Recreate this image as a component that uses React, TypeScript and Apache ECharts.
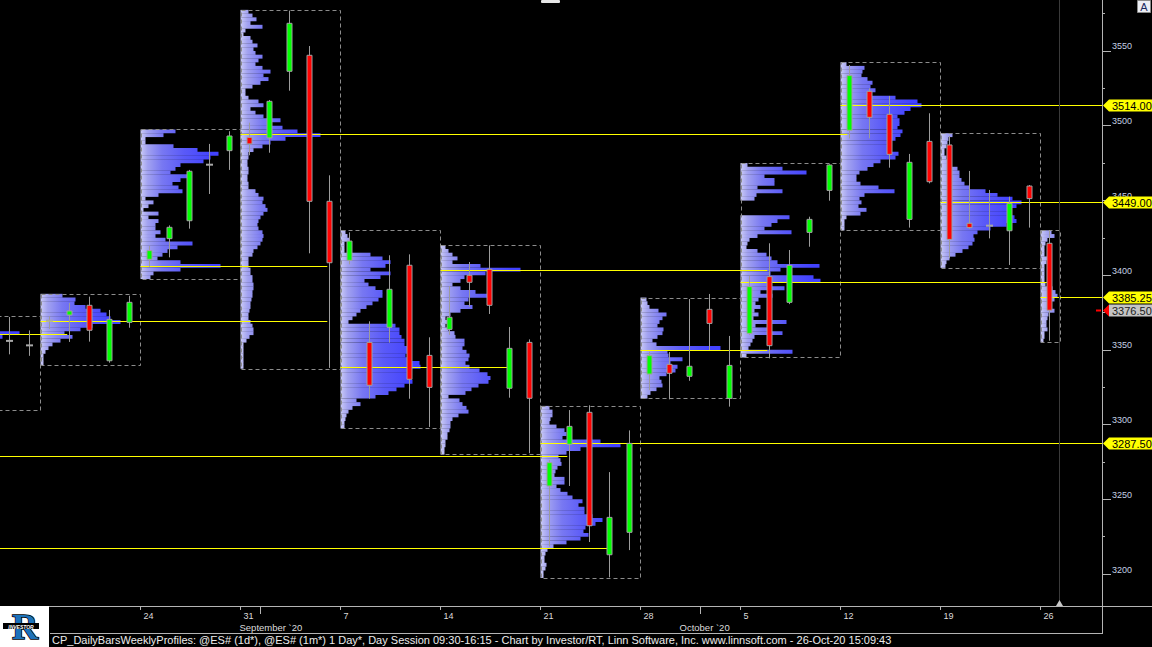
import React, { useEffect, useRef } from "react";
import * as echarts from "echarts";

// ---------------- data ----------------
// x index = trading-day slot, 0 = Monday 24 Aug 2020 (each week = 5 slots)
const dayIdx = [-7, -6, -5, -4, -3, -2, -1, 0, 1, 2, 3, 4, 5, 6, 7, 8, 9, 10, 11, 12, 13, 14, 15, 16, 17, 18, 19, 20, 21, 22, 23, 24, 25, 26, 27, 28, 29, 30, 31, 32, 33, 34, 35, 36, 37, 38, 39, 40, 41, 42, 43, 44, 45];
const opens = [3356, 3353, 3369.5, 3373.3, 3379.8, 3342.7, 3368.4,
  3410.6, 3424.4, 3436.4, 3473.9, 3483.3,
  3492.2, 3491.8, 3536.4, 3547.1, 3449.4,
  3409.9, 3355, 3365.1, 3406.6, 3346.3,
  3363.7, 3399.9, 3403.9, 3324.3, 3355,
  3258.9, 3286.8, 3308.2, 3212.9, 3227.9,
  3333.8, 3340.3, 3332.3, 3377.1, 3317.5,
  3361, 3399, 3381.8, 3428.6, 3456.7,
  3496.9, 3523, 3507.6, 3437.3, 3489.5,
  3487.1, 3434.7, 3433.1, 3429.7, 3459.6,
  3421.3];
const highs = [3372, 3363, 3372.5, 3381.4, 3385.6, 3376.7, 3386.2,
  3419.5, 3433.3, 3470.4, 3487.8, 3496.3,
  3502, 3517.2, 3577, 3553.3, 3466.8,
  3428.6, 3369.1, 3413.3, 3413.9, 3358.4,
  3392.7, 3408.8, 3419.9, 3365.3, 3357,
  3276.3, 3309.7, 3312.9, 3268.2, 3296.1,
  3348.8, 3348.6, 3384, 3387.4, 3359.3,
  3399.4, 3421.3, 3416.8, 3439.1, 3474.1,
  3540.6, 3525, 3519.9, 3481.1, 3508.3,
  3493.1, 3469.7, 3457, 3452.5, 3460.3,
  3430.2];
const lows = [3347, 3346, 3364, 3355.3, 3355.5, 3341.4, 3364.8,
  3405.6, 3411.9, 3431.1, 3454.3, 3470.4,
  3480.2, 3481.9, 3523.4, 3414.6, 3337.9,
  3407.2, 3317.3, 3354.8, 3317.3, 3298.4,
  3360, 3378.9, 3374, 3318, 3280.8,
  3218.3, 3258.9, 3221.4, 3197.8, 3216,
  3323.1, 3316.9, 3329.3, 3349.9, 3312,
  3359.9, 3344.3, 3380.6, 3419, 3449.8,
  3491.5, 3491.5, 3471.9, 3431.8, 3461.4,
  3411.2, 3431, 3424.6, 3406.8, 3431.8,
  3356.1];
const closes = [3356, 3353, 3369.5, 3376, 3363.1, 3370.4, 3381.8,
  3416.4, 3432, 3469.5, 3473.9, 3493.1,
  3487.8, 3516.3, 3568.5, 3449.4, 3408.3,
  3422.8, 3326.3, 3390.5, 3330.3, 3324.9,
  3371.8, 3395.2, 3379.8, 3351, 3317.6,
  3274.5, 3298.8, 3232.3, 3237.9, 3287.4,
  3346.1, 3334.3, 3339, 3367.7, 3339.6,
  3392.3, 3352.8, 3406.5, 3437.3, 3473.7,
  3533.5, 3505.6, 3480.8, 3475.5, 3462.5,
  3423.9, 3431.8, 3433.1, 3448, 3451.2,
  3376.5];

// weekly profiles
const weekLabels = ["10", "17", "24", "31", "7", "14", "21", "28", "5", "12", "19", "26"];
const weekStarts = [-10, -5, 0, 5, 10, 15, 20, 25, 30, 35, 40, 45];
const weekDays = [5, 5, 5, 5, 5, 5, 5, 5, 5, 5, 5, 1];
const profileTops = [3372.5, 3387.5, 3497.5, 3577.5, 3430, 3420, 3312.5, 3385, 3475, 3542.5, 3495, 3430];
const pocs = [3360.5, 3369.5, 3406, 3494.5, 3338.5, 3403.5, 3287.5, 3350, 3395.25, 3514, 3449, 3385.25];
const olderPocs = [3279, 3217.25];
const STEP = 2.5; // price bin of the profiles

const profAug10 = [20, 26, 30, 42, 79, 62, 52, 48, 40, 44, 38, 36, 32, 30, 34, 28, 24, 26, 20, 18, 14, 12, 10, 8, 6];
const profAug17 = [22, 35, 34, 45, 60, 66, 70, 80, 52, 40, 24, 32, 20, 12, 8, 5, 3, 3, 3];
const profAug24 = [35, 23, 5, 5, 33, 57, 78, 70, 63, 40, 35, 30, 48, 40, 32, 38, 42, 18, 5, 13, 8, 3, 18, 8, 18, 15, 15, 20, 15, 25, 52, 37, 27, 22, 17, 40, 80, 40, 13, 10];
const profAug31 = [8, 12, 16, 10, 22, 5, 3, 10, 12, 17, 13, 15, 22, 18, 15, 22, 30, 23, 28, 20,
  12, 5, 5, 8, 18, 23, 10, 15, 23, 40, 28, 42, 57, 80, 45, 30, 22, 13, 8, 8,
  7, 7, 8, 8, 7, 7, 8, 8, 15, 18, 23, 22, 25, 27, 23, 20, 18, 17, 18, 22,
  23, 22, 20, 17, 13, 12, 8, 8, 8, 10, 10, 12, 12, 13, 13, 12, 12, 11, 10, 10,
  9, 8, 8, 10, 12, 13, 13, 9, 6, 3, 3, 3, 3, 3, 3, 3];
const profSep7 = [5, 7, 9, 4, 4, 4, 30, 42, 50, 45, 30, 50, 40, 24, 28, 35, 42, 42, 38, 32, 26,
  20, 16, 12, 8, 55, 59, 59, 61, 64, 64, 67, 67, 65, 70, 79, 80, 70, 68, 70, 72,
  64, 56, 48, 35, 16, 20, 12, 8, 6, 5, 4, 4];
const profSep14 = [5, 8, 12, 17, 12, 40, 80, 45, 24, 20, 12, 20, 35, 47, 28, 24, 32, 20, 10, 5,
  8, 5, 8, 14, 15, 24, 24, 22, 26, 29, 28, 25, 29, 39, 47, 50, 48, 38, 31, 25,
  8, 19, 22, 26, 28, 18, 12, 10, 10, 9, 7, 7, 5, 5, 4, 4];
const profSep21 = [9, 12, 12, 10, 9, 16, 24, 26, 22, 60, 80, 40, 26, 18, 20, 21, 17, 15, 14, 24,
  24, 16, 20, 27, 32, 42, 38, 44, 44, 52, 62, 55, 45, 43, 48, 40, 26, 13, 7, 5,
  4, 4, 6, 5, 3, 3];
const profSep28 = [6, 7, 9, 18, 26, 22, 19, 17, 23, 22, 17, 12, 16, 80, 27, 28, 42, 30, 37, 35, 26, 19, 21, 22, 16, 10, 7];
const profOct5 = [7, 42, 66, 24, 34, 34, 17, 42, 16, 14, 0, 0, 0, 0, 49, 37, 31, 24, 51, 17,
  9, 7, 6, 17, 26, 31, 37, 79, 40, 30, 73, 80, 30, 44, 20, 32, 18, 15, 20, 14,
  18, 13, 46, 15, 30, 42, 14, 12, 10, 8, 52, 6];
const profOct12 = [6, 24, 22, 21, 27, 32, 30, 35, 30, 55, 77, 81, 70, 64, 57, 59, 59, 57, 62, 60,
  55, 50, 50, 48, 58, 55, 40, 33, 27, 19, 16, 16, 20, 38, 54, 24, 19, 21, 18, 26,
  20, 6, 4, 4, 4];
const profOct19 = [12, 8, 7, 6, 4, 4, 6, 7, 10, 17, 19, 19, 21, 24, 29, 45, 57, 72, 81, 76,
  70, 68, 74, 76, 66, 50, 37, 33, 34, 32, 28, 22, 15, 9, 6, 5];
const profOct26 = [11, 14, 7, 5, 4, 4, 4, 8, 6, 4, 4, 4, 4, 4, 5, 12, 15, 17, 14, 9, 11, 14, 8, 7, 6, 6, 7, 4, 4, 3];
const profiles = [profAug10, profAug17, profAug24, profAug31, profSep7, profSep14, profSep21, profSep28, profOct5, profOct12, profOct19, profOct26];
const VOL_PER_DAY = 20; // profile volume units that fill one day slot

const priceTicks = [3200, 3250, 3300, 3350, 3400, 3450, 3500, 3550];
const priceMinorTicks = [3225, 3275, 3325, 3375, 3425, 3475, 3525, 3575];
const monthTicks = [6, 28];
const monthLabelPos = [4.95, 26.95];
const monthLabels = ["September `20", "October `20"];
const NOW_IDX = 45.94;
const statusText = "CP_DailyBarsWeeklyProfiles: @ES# (1d*), @ES# (1m*) 1 Day*, Day Session 09:30-16:15 - Chart by Investor/RT, Linn Software, Inc. www.linnsoft.com - 26-Oct-20 15:09:43";

// ---------------- layout constants ----------------
const X_MIN = -7.025;
const X_MAX = 48.075;
const Y_MIN = 3178.6;
const Y_MAX = 3584.1;
const C_OFF = 0.44;
const FONT = '"Liberation Sans", Arial, sans-serif';
const AXIS_GRAY = "#b4b4b4";

function touchEnd(price: number, afterIdx: number): number | null {
  for (let i = 0; i < dayIdx.length; i++) {
    if (dayIdx[i] < afterIdx) continue;
    if (lows[i] <= price && price <= highs[i]) return dayIdx[i] + C_OFF - 0.1;
  }
  return null;
}

function buildOption(): any {
  const profileData: number[][] = [];
  profiles.forEach((prof, w) => {
    prof.forEach((v, k) => {
      if (v > 0) profileData.push([weekStarts[w], profileTops[w] - k * STEP, v]);
    });
  });
  const boxData = profiles.map((prof, w) => [
    weekStarts[w],
    weekStarts[w] + weekDays[w] - 0.05,
    profileTops[w],
    profileTops[w] - prof.length * STEP,
  ]);
  const lineData: number[][] = [];
  const tagData: number[][] = [];
  pocs.forEach((p, w) => {
    const e = touchEnd(p, weekStarts[w] + 5);
    lineData.push([weekStarts[w], e === null ? X_MAX : e, p]);
    if (e === null) tagData.push([p, 0]);
  });
  olderPocs.forEach((p) => {
    const e = touchEnd(p, -1e9);
    lineData.push([X_MIN - 1, e === null ? X_MAX : e, p]);
    if (e === null) tagData.push([p, 0]);
  });
  tagData.push([closes[closes.length - 1], 1]);
  const candleData = dayIdx.map((d, i) => [d, opens[i], highs[i], lows[i], closes[i]]);

  const weekTickVals = weekStarts.filter((s) => s >= 0);

  return {
    animation: false,
    backgroundColor: "#000000",
    grid: { left: 0, right: 50, top: 0, bottom: 41, containLabel: false, outerBoundsMode: "none" },
    xAxis: [
      {
        type: "value", min: X_MIN, max: X_MAX, position: "bottom",
        axisLine: { show: true, onZero: false, lineStyle: { color: AXIS_GRAY, width: 1 } },
        axisTick: { show: true, length: 4, customValues: weekTickVals, lineStyle: { color: AXIS_GRAY } },
        axisLabel: {
          show: true, customValues: weekTickVals,
          formatter: (v: number) => {
            const w = weekStarts.findIndex((s) => Math.abs(s - v) < 1e-6);
            return w >= 0 ? weekLabels[w] : "";
          },
          color: "#dcdcdc", fontSize: 9, fontFamily: FONT, align: "left", padding: [0, 0, 0, 3], margin: 5,
        },
        splitLine: { show: false },
      },
      {
        type: "value", min: X_MIN, max: X_MAX, position: "bottom",
        axisLine: { show: false, onZero: false },
        axisTick: { show: true, length: 8, customValues: monthTicks, lineStyle: { color: AXIS_GRAY } },
        axisLabel: {
          show: true, customValues: monthLabelPos,
          formatter: (v: number) => {
            let best = 0;
            monthLabelPos.forEach((m, i) => { if (Math.abs(m - v) < Math.abs(monthLabelPos[best] - v)) best = i; });
            return monthLabels[best];
          },
          color: "#dcdcdc", fontSize: 9.5, fontFamily: FONT, align: "left", margin: 16,
        },
        splitLine: { show: false },
      },
    ],
    yAxis: [
      {
        type: "value", min: Y_MIN, max: Y_MAX, position: "right",
        axisLine: { show: true, onZero: false, lineStyle: { color: AXIS_GRAY, width: 1 } },
        axisTick: { show: true, length: 9, customValues: priceTicks, lineStyle: { color: AXIS_GRAY } },
        axisLabel: {
          show: true, customValues: priceTicks, formatter: (v: number) => String(Math.round(v)),
          color: "#c4d0e4", fontSize: 9, fontFamily: FONT, margin: 10, verticalAlign: "bottom",
        },
        splitLine: { show: false },
      },
      {
        type: "value", min: Y_MIN, max: Y_MAX, position: "right",
        axisLine: { show: false, onZero: false },
        axisTick: { show: true, length: 3, customValues: priceMinorTicks, lineStyle: { color: AXIS_GRAY } },
        axisLabel: { show: false, customValues: priceMinorTicks },
        splitLine: { show: false },
      },
    ],
    series: [
      {
        type: "custom", name: "profiles", clip: true, silent: true, z: 1,
        data: profileData,
        renderItem: (params: any, api: any) => {
          const x = api.value(0), top = api.value(1), vol = api.value(2);
          const p0 = api.coord([x, top]);
          const p1 = api.coord([x + vol / VOL_PER_DAY, top - STEP]);
          const gEnd = api.coord([x + 3.6, top])[0];
          return {
            type: "rect",
            shape: { x: p0[0], y: p0[1], width: p1[0] - p0[0], height: p1[1] - p0[1] + 0.2 },
            style: {
              fill: new echarts.graphic.LinearGradient(p0[0], 0, gEnd, 0, [
                { offset: 0, color: "#cacaf6" },
                { offset: 0.1, color: "#a2a2f0" },
                { offset: 0.3, color: "#7878f2" },
                { offset: 0.6, color: "#5a5af8" },
                { offset: 1, color: "#4242ff" },
              ], true),
            },
          };
        },
      },
      {
        type: "custom", name: "boxes", clip: true, silent: true, z: 2,
        data: boxData,
        renderItem: (params: any, api: any) => {
          const a = api.coord([api.value(0), api.value(2)]);
          const b = api.coord([api.value(1), api.value(3)]);
          const x0 = Math.round(a[0]) + 0.5, y0 = Math.round(a[1]) + 0.5;
          const x1 = Math.round(b[0]) + 0.5, y1 = Math.round(b[1]) + 0.5;
          return {
            type: "rect",
            shape: { x: x0, y: y0, width: x1 - x0, height: y1 - y0 },
            style: { fill: "none", stroke: "#8c8c8c", lineWidth: 1, lineDash: [4, 3] },
          };
        },
      },
      {
        type: "custom", name: "poc", clip: true, silent: true, z: 3,
        data: lineData,
        renderItem: (params: any, api: any) => {
          const a = api.coord([api.value(0), api.value(2)]);
          const b = api.coord([api.value(1), api.value(2)]);
          const y = Math.round(a[1]) + 0.5;
          return {
            type: "line",
            shape: { x1: a[0], y1: y, x2: b[0], y2: y },
            style: { stroke: "#ffff00", lineWidth: 1 },
          };
        },
      },
      {
        type: "custom", name: "now", clip: false, silent: true, z: 3,
        data: [[NOW_IDX, Y_MIN]],
        renderItem: (params: any, api: any) => {
          const top = api.coord([api.value(0), Y_MAX]);
          const bot = api.coord([api.value(0), Y_MIN]);
          const x = Math.round(top[0]) + 0.5;
          return {
            type: "group",
            children: [
              { type: "line", shape: { x1: x, y1: top[1], x2: x, y2: bot[1] - 5 }, style: { stroke: "#3a3a3a", lineWidth: 1 } },
              { type: "polygon", shape: { points: [[x - 3.5, bot[1]], [x, bot[1] - 6], [x + 3.5, bot[1]]] }, style: { fill: "#c8c8c8" } },
            ],
          };
        },
      },
      {
        type: "custom", name: "candles", clip: true, silent: true, z: 4,
        data: candleData,
        renderItem: (params: any, api: any) => {
          const d = api.value(0), o = api.value(1), h = api.value(2), l = api.value(3), c = api.value(4);
          const cx = Math.round(api.coord([d + C_OFF, o])[0]) + 0.5;
          const yo = api.coord([d, o])[1], yc = api.coord([d, c])[1];
          const yh = api.coord([d, h])[1], yl = api.coord([d, l])[1];
          const children: any[] = [
            { type: "line", shape: { x1: cx, y1: yh, x2: cx, y2: yl }, style: { stroke: "#9c9c9c", lineWidth: 1 } },
          ];
          if (o === c) {
            children.push({ type: "rect", shape: { x: cx - 3.5, y: yo - 1, width: 7, height: 2 }, style: { fill: "#a8a8a8" } });
          } else {
            const top = Math.min(yo, yc), bot = Math.max(yo, yc);
            children.push({
              type: "rect",
              shape: { x: cx - 2.5, y: top, width: 5, height: Math.max(bot - top, 1) },
              style: { fill: c > o ? "#00ff00" : "#ff0000", stroke: "#a0a0a0", lineWidth: 1 },
            });
          }
          return { type: "group", children };
        },
      },
      {
        type: "custom", name: "tags", clip: false, silent: true, z: 6,
        data: tagData,
        renderItem: (params: any, api: any) => {
          const price = api.value(0), kind = api.value(1);
          const p = api.coord([X_MAX, price]);
          const x = Math.round(p[0]), y = Math.round(p[1]) + 0.5;
          const txt = price.toFixed(2);
          if (kind === 0) {
            return {
              type: "group",
              children: [
                { type: "polygon", shape: { points: [[x + 1, y], [x + 7, y - 6], [x + 50, y - 6], [x + 50, y + 6], [x + 7, y + 6]] }, style: { fill: "#ffff00" } },
                { type: "text", style: { text: txt, x: x + 10, y: y + 0.5, fill: "#000000", font: "11px " + FONT, align: "left", verticalAlign: "middle" } },
              ],
            };
          }
          return {
            type: "group",
            children: [
              { type: "line", shape: { x1: x - 6, y1: y, x2: x - 1, y2: y }, style: { stroke: "#ff0000", lineWidth: 2 } },
              { type: "polygon", shape: { points: [[x + 1, y], [x + 7, y - 6], [x + 7, y + 6]] }, style: { fill: "#ff0000" } },
              { type: "rect", shape: { x: x + 7, y: y - 6, width: 43, height: 12 }, style: { fill: "#c4c4c4" } },
              { type: "text", style: { text: txt, x: x + 10, y: y + 0.5, fill: "#202020", font: "11px " + FONT, align: "left", verticalAlign: "middle" } },
            ],
          };
        },
      },
    ],
    graphic: [
      // date strip frame
      { type: "line", shape: { x1: 1102, y1: 606.5, x2: 1152, y2: 606.5 }, style: { stroke: AXIS_GRAY, lineWidth: 1 }, z: 10 },
      { type: "line", shape: { x1: 50, y1: 633.5, x2: 1102.5, y2: 633.5 }, style: { stroke: AXIS_GRAY, lineWidth: 1 }, z: 10 },
      { type: "line", shape: { x1: 1102.5, y1: 606, x2: 1102.5, y2: 634 }, style: { stroke: AXIS_GRAY, lineWidth: 1 }, z: 10 },
      // status text
      { type: "text", style: { text: statusText, x: 52, y: 640, fill: "#ececec", font: "11px " + FONT, verticalAlign: "middle" }, z: 10 },
      // logo
      { type: "rect", shape: { x: 0, y: 606, width: 49, height: 41 }, style: { fill: "#ffffff" }, z: 20 },
      { type: "text", style: { text: "R", x: 25, y: 627, fill: "#1c72ba", stroke: "#000000", lineWidth: 1.5, font: 'bold 36px "Liberation Serif", serif', align: "center", verticalAlign: "middle" }, z: 21 },
      { type: "rect", shape: { x: 3, y: 623, width: 36, height: 6 }, style: { fill: "#000000" }, z: 22 },
      { type: "text", style: { text: "INVESTOR", x: 21, y: 626.5, fill: "#ffffff", font: "italic bold 5px " + FONT, align: "center", verticalAlign: "middle" }, z: 23 },
      // top decorations
      { type: "rect", shape: { x: 541, y: 0, width: 19, height: 3, r: 1 }, style: { fill: "#e6e6e6" }, z: 10 },
      { type: "rect", shape: { x: 1137.5, y: 0.5, width: 13, height: 12 }, style: { fill: "#eceef4", stroke: "#8a8a8a", lineWidth: 1 }, z: 10 },
      { type: "text", style: { text: "A", x: 1144, y: 7, fill: "#1a2a60", font: "11px " + FONT, align: "center", verticalAlign: "middle" }, z: 11 },
    ],
  };
}

export default function App() {
  const ref = useRef<HTMLDivElement>(null);
  useEffect(() => {
    document.body.style.margin = "0";
    document.body.style.background = "#000";
    const chart = echarts.init(ref.current as HTMLDivElement, null, { renderer: "svg" });
    chart.setOption(buildOption());
    return () => chart.dispose();
  }, []);
  return <div ref={ref} style={{ width: 1152, height: 647, background: "#000" }} />;
}
